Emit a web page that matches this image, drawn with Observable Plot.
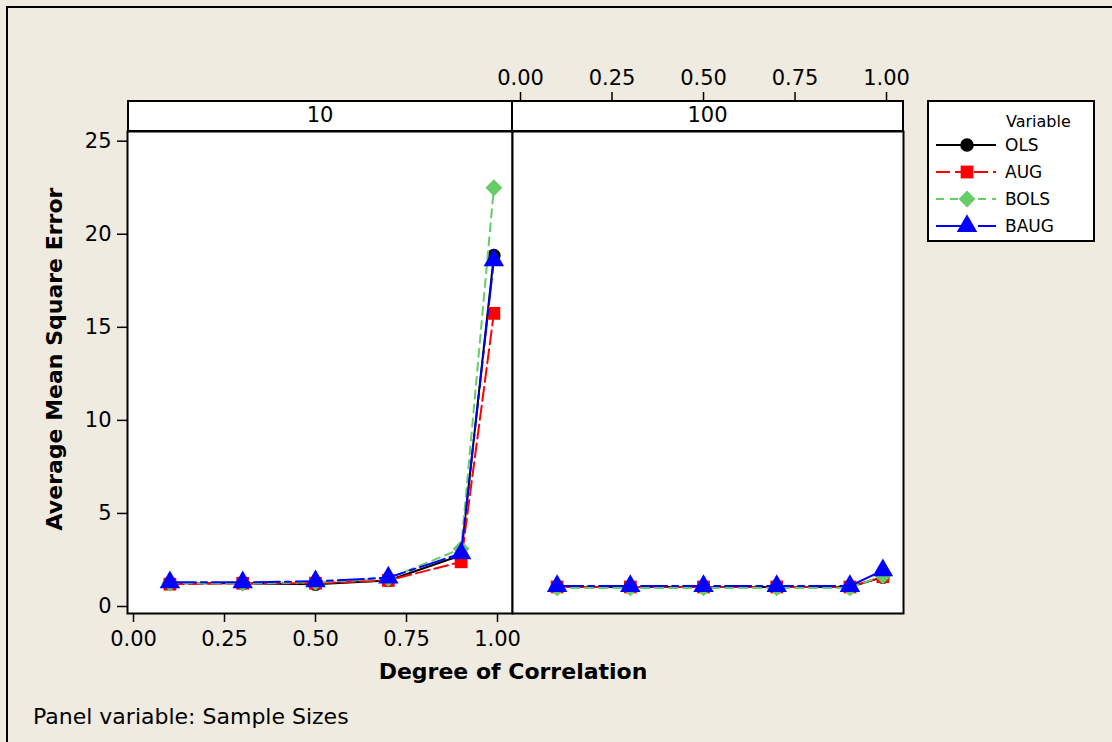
<!DOCTYPE html>
<html><head><meta charset="utf-8">
<script src="https://cdn.jsdelivr.net/npm/d3@7"></script>
<script src="https://cdn.jsdelivr.net/npm/@observablehq/plot@0.6"></script>
<style>
body{margin:0;background:#EFEBE0;}
#chart{position:relative;width:1112px;height:742px;background:#EFEBE0;overflow:hidden;font-family:"DejaVu Sans",sans-serif;color:#000;}
.strip{position:absolute;box-sizing:border-box;background:#fff;border:2px solid #000;text-align:center;font-size:21px;line-height:27px;}
svg{overflow:visible;}
</style></head><body><div id="chart"></div>
<script>
// ---- data ----
const correlation = [0.1, 0.3, 0.5, 0.7, 0.9, 0.99];
const sampleSizes = ["10", "100"];
const variables = ["OLS", "AUG", "BOLS", "BAUG"];
const ols10  = [1.25, 1.25, 1.2, 1.4, 2.75, 18.85];
const aug10  = [1.2, 1.25, 1.25, 1.4, 2.4, 15.75];
const bols10 = [1.25, 1.25, 1.3, 1.5, 3.1, 22.5];
const baug10 = [1.3, 1.3, 1.35, 1.55, 2.85, 18.6];
const ols100  = [1.05, 1.05, 1.05, 1.05, 1.05, 1.58];
const aug100  = [1.05, 1.05, 1.05, 1.05, 1.05, 1.6];
const bols100 = [1.0, 1.0, 1.0, 1.0, 1.0, 1.65];
const baug100 = [1.1, 1.1, 1.1, 1.1, 1.1, 1.94];
const xTicks = [0, 0.25, 0.5, 0.75, 1];
const yTicks = [0, 5, 10, 15, 20, 25];

const seriesValues = {
  "10":  {OLS: ols10, AUG: aug10, BOLS: bols10, BAUG: baug10},
  "100": {OLS: ols100, AUG: aug100, BOLS: bols100, BAUG: baug100}
};
const style = {
  OLS:  {stroke: "#000000", dash: null, symbol: "circle", r: 6.8},
  AUG:  {stroke: "#FF0000", dash: "14,5", symbol: "square", r: 7.2},
  BOLS: {stroke: "#66CC66", dash: "8,6", symbol: "diamond2", r: 7.6},
  BAUG: {stroke: "#0000FF", dash: "26,5,6,5", symbol: "triangle", r: 7.6}
};
function rows(size) {
  const out = [];
  for (const v of variables) correlation.forEach((c, i) => out.push({size, variable: v, x: c, y: seriesValues[size][v][i]}));
  return out;
}
const chart = document.getElementById("chart");
function place(el, left, top) { el.style.position = "absolute"; el.style.left = left + "px"; el.style.top = top + "px"; chart.appendChild(el); return el; }

// outer border
const border = document.createElement("div");
border.style.cssText = "position:absolute;left:6px;top:6px;width:1200px;height:800px;border-left:2px solid #000;border-top:2px solid #000;";
chart.appendChild(border);

const yDomain = [-0.376, 25.52];
function seriesMarks(data) {
  const marks = [];
  for (const v of variables) {
    const s = style[v];
    const d = data.filter(r => r.variable === v);
    marks.push(Plot.line(d, {x: "x", y: "y", stroke: s.stroke, strokeWidth: 2, strokeDasharray: s.dash}));
    marks.push(Plot.dot(d, {x: "x", y: "y", symbol: () => s.symbol, fill: s.stroke, r: s.r, stroke: "none"}));
  }
  return marks;
}

// left panel (sample size 10)
const left = Plot.plot({
  width: 514, height: 542,
  marginLeft: 127, marginRight: 2, marginTop: 10, marginBottom: 50,
  style: {background: "transparent", fontFamily: "DejaVu Sans", color: "#000", overflow: "visible"},
  x: {domain: [-0.0165, 1.0412]},
  y: {domain: yDomain},
  symbol: {type: "identity"},
  marks: [
    Plot.frame({fill: "#fff"}),
    ...seriesMarks(rows("10")),
    Plot.frame({stroke: "#000", strokeWidth: 2}),
    Plot.axisY(yTicks, {tickSize: 10, tickPadding: 6, fontSize: 21, label: null, strokeWidth: 1.5}),
    Plot.axisX(xTicks, {anchor: "bottom", tickSize: 9, tickPadding: 9, fontSize: 21, label: null, tickFormat: d3.format(".2f"), strokeWidth: 1.5})
  ]
});
place(left, 0, 121);

// right panel (sample size 100)
const right = Plot.plot({
  width: 393, height: 484,
  marginLeft: 1, marginRight: 1, marginTop: 1, marginBottom: 1,
  style: {background: "transparent", fontFamily: "DejaVu Sans", color: "#000", overflow: "visible"},
  x: {domain: [-0.0219, 1.0464], axis: null},
  y: {domain: yDomain, axis: null},
  symbol: {type: "identity"},
  marks: [
    Plot.frame({fill: "#fff"}),
    ...seriesMarks(rows("100")),
    Plot.frame({stroke: "#000", strokeWidth: 2})
  ]
});
place(right, 511, 130);

// top axis for right panel
const topAxis = Plot.plot({
  width: 471, height: 46,
  marginLeft: 40, marginRight: 40, marginTop: 45, marginBottom: 0,
  style: {background: "transparent", fontFamily: "DejaVu Sans", color: "#000", overflow: "visible"},
  x: {domain: [-0.0219, 1.0464]},
  marks: [
    Plot.axisX(xTicks, {anchor: "top", tickSize: 10, tickPadding: 7, fontSize: 21, label: null, tickFormat: d3.format(".2f"), strokeWidth: 1.5})
  ]
});
place(topAxis, 472, 56);

// strips
[[127, 512, sampleSizes[0]], [511, 903, sampleSizes[1]]].forEach(([a, b, t]) => {
  const s = document.createElement("div");
  s.className = "strip";
  s.style.left = a + "px"; s.style.top = "100px"; s.style.width = (b - a + 1) + "px"; s.style.height = "32px";
  s.textContent = t;
  chart.appendChild(s);
});

// titles
const xl = document.createElement("div");
xl.textContent = "Degree of Correlation";
xl.style.cssText = "position:absolute;left:313px;width:400px;text-align:center;top:659px;font-size:22px;font-weight:bold;";
chart.appendChild(xl);
const yl = document.createElement("div");
yl.textContent = "Average Mean Square Error";
yl.style.cssText = "position:absolute;left:-145px;width:400px;text-align:center;top:344px;font-size:22px;font-weight:bold;transform:rotate(-90deg);line-height:30px;";
chart.appendChild(yl);
const foot = document.createElement("div");
foot.textContent = "Panel variable: Sample Sizes";
foot.style.cssText = "position:absolute;left:33px;top:704px;font-size:22px;";
chart.appendChild(foot);

// legend
const lg = document.createElement("div");
lg.style.cssText = "position:absolute;left:927px;top:100px;width:168px;height:142px;box-sizing:border-box;border:2px solid #000;background:#fff;";
chart.appendChild(lg);
const svg = d3.select(lg).append("svg").attr("width", 164).attr("height", 138).style("position", "absolute").style("left", "0px").style("top", "0px");
svg.append("text").attr("x", 77).attr("y", 25).attr("font-size", 16).attr("font-family", "DejaVu Sans").text("Variable");
const symMap = {circle: d3.symbolCircle, square: d3.symbolSquare, diamond2: d3.symbolDiamond2, triangle: d3.symbolTriangle};
variables.forEach((v, i) => {
  const s = style[v];
  const y = 43 + i * 27;
  svg.append("line").attr("x1", 7).attr("x2", 67).attr("y1", y).attr("y2", y).attr("stroke", s.stroke).attr("stroke-width", 2).attr("stroke-dasharray", s.dash);
  svg.append("path").attr("d", d3.symbol(symMap[s.symbol], Math.PI * s.r * s.r)()).attr("transform", `translate(38,${y})`).attr("fill", s.stroke);
  svg.append("text").attr("x", 76).attr("y", y + 6).attr("font-size", 17).attr("font-family", "DejaVu Sans").text(v);
});
</script></body></html>
